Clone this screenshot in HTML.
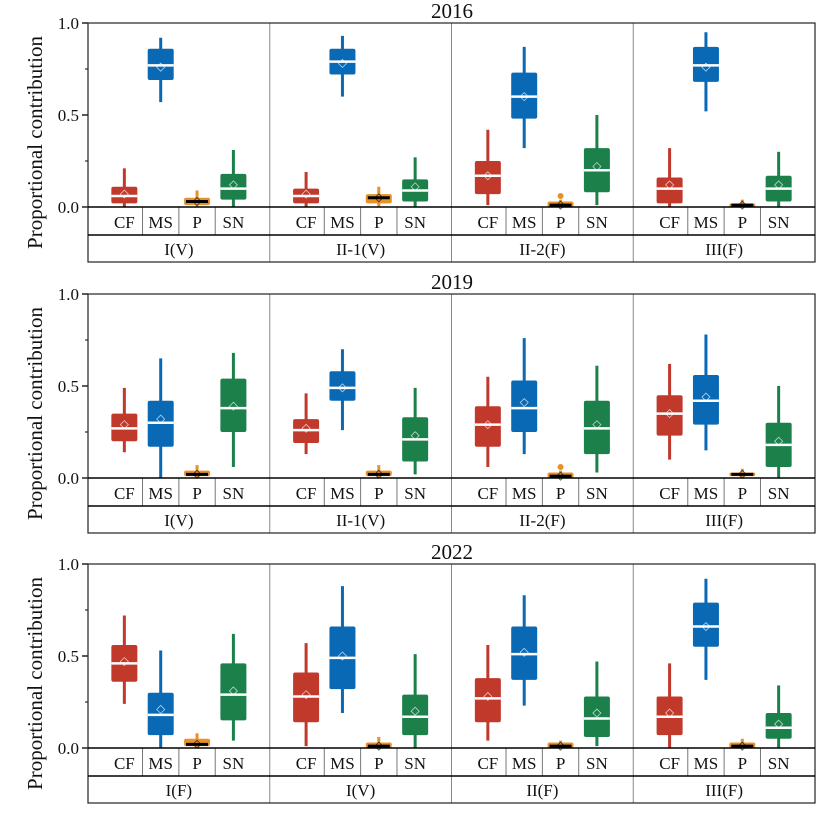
<!DOCTYPE html>
<html><head><meta charset="utf-8"><style>
body{margin:0;background:#fff}
svg{display:block}
</style></head><body>
<svg id="s" width="828" height="821" xmlns="http://www.w3.org/2000/svg" font-family="'Liberation Serif', 'Times New Roman', serif" fill="#111"></svg>
<script>
const C={CF:'#c0392b',MS:'#0a69b4',P:'#e8902a',SN:'#1b8049'};
const cats=['CF','MS','P','SN'];
const panels=[
{t:'2016',top:23,g:['I(V)','II-1(V)','II-2(F)','III(F)'],d:[
[[0,.02,.06,.11,.21,.07],[.57,.69,.77,.86,.92,.76],[0,.01,.03,.05,.09,.03],[0,.04,.10,.18,.31,.12]],
[[0,.02,.06,.10,.19,.07],[.60,.72,.79,.86,.93,.78],[0,.02,.05,.07,.11,.05],[0,.03,.09,.15,.27,.11]],
[[.01,.07,.17,.25,.42,.17],[.32,.48,.60,.73,.87,.60],[0,0,.01,.03,.04,.01,.06],[.01,.08,.20,.32,.50,.22]],
[[0,.02,.10,.16,.32,.12],[.52,.68,.77,.87,.95,.76],[0,0,.01,.02,.04,.01],[0,.03,.10,.17,.30,.12]]]},
{t:'2019',top:294,g:['I(V)','II-1(V)','II-2(F)','III(F)'],d:[
[[.14,.20,.27,.35,.49,.29],[0,.17,.30,.42,.65,.32],[0,.01,.02,.04,.07,.02],[.06,.25,.38,.54,.68,.39]],
[[.13,.19,.26,.32,.46,.27],[.26,.42,.49,.58,.70,.49],[0,.01,.02,.04,.07,.02],[.02,.09,.21,.33,.49,.23]],
[[.06,.17,.29,.39,.55,.29],[.13,.25,.38,.53,.76,.41],[0,0,.01,.03,.04,.01,.06],[.03,.13,.27,.42,.61,.29]],
[[.10,.23,.35,.45,.62,.35],[.15,.29,.42,.56,.78,.44],[0,.01,.02,.03,.05,.02],[0,.06,.18,.30,.50,.20]]]},
{t:'2022',top:564,g:['I(F)','I(V)','II(F)','III(F)'],d:[
[[.24,.36,.46,.56,.72,.47],[0,.07,.18,.30,.53,.21],[0,.01,.02,.05,.08,.02],[.04,.15,.29,.46,.62,.31]],
[[.01,.14,.28,.41,.57,.29],[.19,.32,.49,.66,.88,.50],[0,0,.01,.03,.06,.01],[0,.07,.17,.29,.51,.20]],
[[.04,.14,.27,.38,.56,.28],[.23,.37,.51,.66,.83,.52],[0,0,.01,.03,.04,.01],[.01,.06,.16,.28,.47,.19]],
[[0,.07,.17,.28,.46,.19],[.37,.55,.66,.79,.92,.66],[0,0,.01,.03,.05,.01],[0,.05,.11,.19,.34,.13]]]}
];
let h='';
const L=88,R=815,GW=(R-L)/4,S=184;
panels.forEach(p=>{
 const z=p.top+S, y=v=>z-v*S, rb=z+28, gb=z+55;
 h+=`<text x="452" y="${p.top-5}" font-size="21" text-anchor="middle">${p.t}</text>`;
 h+=`<text transform="translate(42,${p.top+(gb-p.top)/2}) rotate(-90)" font-size="21" text-anchor="middle">Proportional contribution</text>`;
 [[0,'0.0'],[.5,'0.5'],[1,'1.0']].forEach(([v,l])=>{h+=`<line x1="${L-6}" x2="${L}" y1="${y(v)}" y2="${y(v)}" stroke="#000" stroke-width="1.3"/><text x="${L-9}" y="${y(v)+6}" font-size="17" text-anchor="end">${l}</text>`;});
 [.25,.75].forEach(v=>h+=`<line x1="${L-3}" x2="${L}" y1="${y(v)}" y2="${y(v)}" stroke="#000"/>`);
 for(let g=0;g<4;g++){
  const gx=L+g*GW;
  if(g>0)h+=`<line x1="${gx}" x2="${gx}" y1="${p.top}" y2="${gb}" stroke="#888" stroke-width="1"/>`;
  h+=`<text x="${gx+GW/2}" y="${gb-7}" font-size="17" text-anchor="middle">${p.g[g]}</text>`;
  for(let k=0;k<4;k++){
   const cx=gx+GW/5*(k+1);
   if(k>0)h+=`<line x1="${cx-GW/10}" x2="${cx-GW/10}" y1="${z}" y2="${rb}" stroke="#777"/>`;
   h+=`<text x="${cx}" y="${rb-7}" font-size="17" text-anchor="middle">${cats[k]}</text>`;
   const d=p.d[g][k],c=C[cats[k]];
   h+=`<line x1="${cx}" x2="${cx}" y1="${y(d[0])}" y2="${y(d[4])}" stroke="${c}" stroke-width="3"/>`;
   h+=`<rect x="${cx-13}" y="${y(d[3])}" width="26" height="${Math.max(y(d[1])-y(d[3]),2)}" rx="2" fill="${c}"/>`;
   if(cats[k]=='P'){h+=`<line x1="${cx-11}" x2="${cx+11}" y1="${y(d[2])}" y2="${y(d[2])}" stroke="#000" stroke-width="3"/>`;}
   else h+=`<line x1="${cx-13}" x2="${cx+13}" y1="${y(d[2])}" y2="${y(d[2])}" stroke="#fff" stroke-width="2.5"/>`;
   h+=`<path d="M${cx-4} ${y(d[5])}l4 -4l4 4l-4 4z" fill="none" stroke="${cats[k]=='P'?'#000':'#fff'}" stroke-width="0.8" opacity="0.7"/>`;
   if(d[6])h+=`<circle cx="${cx}" cy="${y(d[6])}" r="3" fill="${c}"/>`;
  }
 }
 h+=`<rect x="${L}" y="${p.top}" width="${R-L}" height="${gb-p.top}" fill="none" stroke="#222" stroke-width="1.2"/>`;
 h+=`<line x1="${L}" x2="${R}" y1="${z}" y2="${z}" stroke="#000" stroke-width="1.5"/>`;
 h+=`<line x1="${L}" x2="${R}" y1="${rb}" y2="${rb}" stroke="#000" stroke-width="1.5"/>`;
});
document.getElementById('s').innerHTML=h;
</script>
</body></html>
